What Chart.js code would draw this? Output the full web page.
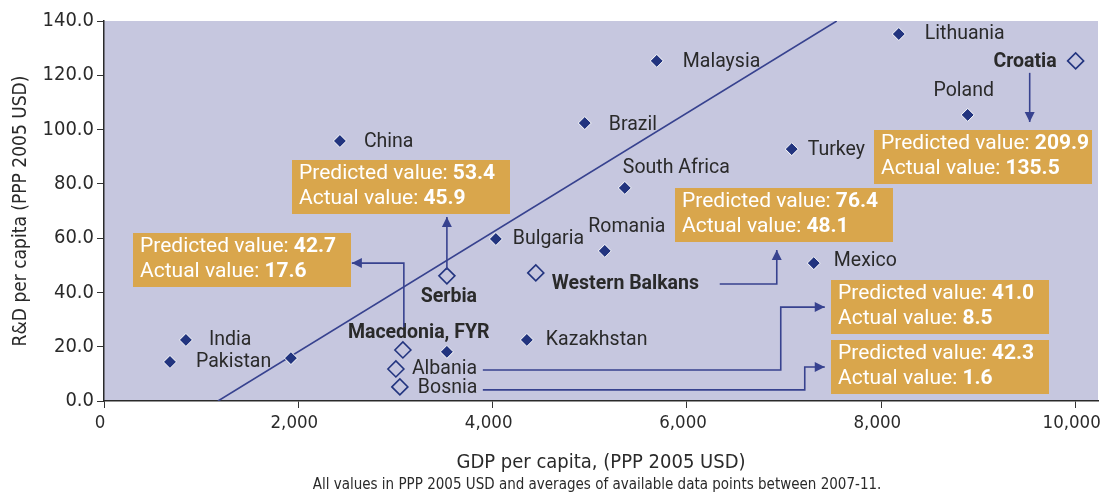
<!DOCTYPE html>
<html>
<head>
<meta charset="utf-8">
<script src="https://cdn.jsdelivr.net/npm/chart.js@4.4.1/dist/chart.umd.min.js"></script>
<style>
  html, body { margin: 0; padding: 0; background: #fff; }
  #wrap { width: 1102px; height: 494px; }
</style>
</head>
<body>
<div id="wrap"><canvas id="chartjs" width="1102" height="494"></canvas></div>
<script>
/*==== data ====*/
// countries (filled diamonds)
const countryNames = ['Lithuania', 'Malaysia', 'Poland', 'Brazil', 'China', 'Turkey', 'South Africa',
    'Bulgaria', 'Romania', 'Mexico', 'Kazakhstan', 'India', 'Pakistan', '', ''];
const countryGdp = [8180, 5689, 8889, 4948, 2428, 7078, 5360, 4033, 5154, 7305, 4352, 843, 679, 1924, 3529];
const countryRd  = [135.2, 125.3, 105.4, 102.4, 95.8, 92.8, 78.5, 59.7, 55.3, 50.8, 22.5, 22.5, 14.4, 15.8, 18.1];

// Western Balkans (hollow diamonds)
const balkanNames = ['Croatia', 'Western Balkans', 'Serbia', 'Macedonia, FYR', 'Albania', 'Bosnia'];
const balkanGdp = [10000, 4444, 3529, 3076, 3004, 3045];
const balkanRd  = [125.3, 47.2, 46.1, 18.8, 11.8, 5.2];

// fitted line
const trendGdp = [1173, 7541];
const trendRd  = [0, 140];

// tick labels
const xTicks = [0, 2000, 4000, 6000, 8000, 10000];
const yTicks = [0, 20, 40, 60, 80, 100, 120, 140];

// callout texts (Croatia, Serbia, Macedonia, Western Balkans, Albania, Bosnia)
const boxPredicted = ['209.9', '53.4', '42.7', '76.4', '41.0', '42.3'];
const boxActual    = ['135.5', '45.9', '17.6', '48.1', '8.5', '1.6'];

/*==== layout / style ====*/
const NAVY = '#22347f';
const LINE = '#37428f';
const PLOT_BG = '#c6c7df';
const BOX_BG = '#d9a64c';
const TEXT = '#2a2a2a';
const LABEL_FONT = '19.5px Roboto, "Noto Sans", sans-serif';
const LABEL_BOLD = 'bold 19.5px Roboto, "Noto Sans", sans-serif';
const AXIS_FONT = '"DejaVu Sans Condensed", sans-serif';

// label offsets in px from the marker
const countryLabelPos = [
    {dx: 26, dy: 0},
    {dx: 26, dy: 1},
    {dx: -4, dy: -24, align: 'center'},
    {dx: 24, dy: 2},
    {dx: 24, dy: 1},
    {dx: 16, dy: 1},
    {dx: -2, dy: -20},
    {dx: 17, dy: 0},
    {dx: 22, dy: -24, align: 'center'},
    {dx: 20, dy: -2},
    {dx: 19, dy: 0},
    {dx: 23, dy: 0},
    {dx: 26, dy: 0},
    null, null
];
const balkanLabelPos = [
    {dx: -19, dy: 1, align: 'right', bold: true},
    {dx: 16, dy: 11, bold: true},
    {dx: 2, dy: 21, align: 'center', bold: true},
    {dx: -55, dy: -17, bold: true},
    {dx: 16, dy: 0},
    {dx: 18, dy: 1}
];

// callout boxes: top-left corner in data units
const boxAnchors = [
    [7922, 99.9], [1934, 88.8], [298, 61.9], [5874, 78.5], [7479, 44.6], [7479, 22.5]
];
const BOX_W = 218, BOX_H = 54;

// arrows in data units, last point is the arrow tip
const arrowPaths = [
    [[9527, 120.9], [9527, 102.8]],
    [[3529, 48.3], [3529, 67.8]],
    [[3086, 27.3], [3086, 50.8], [2551, 50.8]],
    [[6337, 43.1], [6924, 43.1], [6924, 55.6]],
    [[3899, 11.4], [6965, 11.4], [6965, 34.6], [7418, 34.6]],
    [[3899, 4.1], [7212, 4.1], [7212, 12.5], [7418, 12.5]]
];

function toPoints(xs, ys) {
    return xs.map((x, i) => ({x: x, y: ys[i]}));
}

function drawArrow(ctx, pts) {
    ctx.beginPath();
    ctx.moveTo(pts[0][0], pts[0][1]);
    for (let i = 1; i < pts.length; i++) ctx.lineTo(pts[i][0], pts[i][1]);
    ctx.stroke();
    const [x1, y1] = pts[pts.length - 2];
    const [x2, y2] = pts[pts.length - 1];
    const ang = Math.atan2(y2 - y1, x2 - x1);
    const len = 10, half = 5;
    ctx.beginPath();
    ctx.moveTo(x2, y2);
    ctx.lineTo(x2 - len * Math.cos(ang) + half * Math.sin(ang), y2 - len * Math.sin(ang) - half * Math.cos(ang));
    ctx.lineTo(x2 - len * Math.cos(ang) - half * Math.sin(ang), y2 - len * Math.sin(ang) + half * Math.cos(ang));
    ctx.closePath();
    ctx.fill();
}

function drawLabels(ctx, meta, names, pos) {
    names.forEach((name, i) => {
        const p = pos[i];
        if (!name || !p) return;
        const el = meta.data[i];
        ctx.font = p.bold ? LABEL_BOLD : LABEL_FONT;
        ctx.textAlign = p.align || 'left';
        ctx.fillText(name, el.x + p.dx, el.y + p.dy);
    });
}

// no extra room for the overhanging first / last tick labels
function noLabelPadding(scale) {
    scale._calculatePadding = function () {
        this.paddingLeft = 0;
        this.paddingRight = 0;
        this.paddingTop = 0;
        this.paddingBottom = 0;
    };
}

/*==== plugin for background, labels and callouts ====*/
const annotate = {
    id: 'annotate',
    beforeDraw(chart) {
        const {ctx, chartArea: a} = chart;
        ctx.save();
        ctx.fillStyle = PLOT_BG;
        ctx.fillRect(a.left, a.top, a.right - a.left, a.bottom - a.top);
        ctx.restore();
    },
    afterDatasetsDraw(chart) {
        const {ctx, scales: {x, y}} = chart;
        ctx.save();
        ctx.textBaseline = 'middle';
        ctx.fillStyle = TEXT;
        drawLabels(ctx, chart.getDatasetMeta(0), countryNames, countryLabelPos);
        drawLabels(ctx, chart.getDatasetMeta(1), balkanNames, balkanLabelPos);

        // arrows
        ctx.strokeStyle = LINE;
        ctx.fillStyle = LINE;
        ctx.lineWidth = 1.6;
        arrowPaths.forEach(path => {
            drawArrow(ctx, path.map(p => [x.getPixelForValue(p[0]), y.getPixelForValue(p[1])]));
        });

        // callout boxes
        boxAnchors.forEach((b, i) => {
            const bx = Math.round(x.getPixelForValue(b[0]));
            const by = Math.round(y.getPixelForValue(b[1]));
            ctx.fillStyle = BOX_BG;
            ctx.fillRect(bx, by, BOX_W, BOX_H);
            ctx.fillStyle = '#ffffff';
            ctx.textAlign = 'left';
            const lines = [['Predicted value: ', boxPredicted[i]], ['Actual value: ', boxActual[i]]];
            lines.forEach((ln, k) => {
                const ty = by + 14 + k * 25;
                ctx.font = '21px Roboto, "Noto Sans", sans-serif';
                ctx.fillText(ln[0], bx + 7, ty);
                const w = ctx.measureText(ln[0]).width;
                ctx.font = 'bold 21px Roboto, "Noto Sans", sans-serif';
                ctx.fillText(ln[1], bx + 7 + w, ty);
            });
        });

        // footnote
        ctx.fillStyle = TEXT;
        ctx.textAlign = 'center';
        ctx.font = '15px ' + AXIS_FONT;
        ctx.fillText('All values in PPP 2005 USD and averages of available data points between 2007-11.', 597, 485);
        ctx.restore();
    }
};

/*==== chart ====*/
const config_scatter = {
    type: 'scatter',
    data: {
        datasets: [
            {
                label: 'Countries',
                data: toPoints(countryGdp, countryRd),
                pointStyle: 'rectRot',
                pointRadius: 6.5,
                backgroundColor: NAVY,
                borderColor: '#ffffff',
                borderWidth: 1
            },
            {
                label: 'Western Balkans',
                data: toPoints(balkanGdp, balkanRd),
                pointStyle: 'rectRot',
                pointRadius: 8,
                backgroundColor: 'rgba(0,0,0,0)',
                borderColor: NAVY,
                borderWidth: 1.6
            },
            {
                type: 'line',
                label: 'Trend',
                data: toPoints(trendGdp, trendRd),
                borderColor: LINE,
                borderWidth: 1.6,
                pointRadius: 0,
                fill: false
            }
        ]
    },
    options: {
        responsive: false,
        animation: false,
        layout: { autoPadding: false, padding: { top: 21, right: 4, bottom: 0, left: 0 } },
        plugins: {
            legend: { display: false },
            tooltip: { enabled: false }
        },
        scales: {
            x: {
                type: 'linear',
                min: 0,
                max: 10230,
                beforeFit: noLabelPadding,
                afterBuildTicks: scale => { scale.ticks = xTicks.map(v => ({value: v})); },
                afterFit: scale => { scale.height = 93; },
                grid: { drawOnChartArea: false, drawTicks: true, tickLength: 7, color: '#333' },
                border: { display: true, color: '#2a2a2a', width: 1.5 },
                ticks: {
                    padding: 4,
                    labelOffset: -4,
                    color: TEXT,
                    font: { family: AXIS_FONT, size: 18.5 },
                    callback: v => v.toLocaleString('en-US')
                },
                title: {
                    display: true,
                    text: 'GDP per capita, (PPP 2005 USD)',
                    color: TEXT,
                    font: { family: AXIS_FONT, size: 20 },
                    padding: { top: 0, bottom: 19 }
                }
            },
            y: {
                min: 0,
                max: 140,
                afterBuildTicks: scale => { scale.ticks = yTicks.map(v => ({value: v})); },
                afterFit: scale => { scale.width = 104; },
                grid: { drawOnChartArea: false, drawTicks: true, tickLength: 7, color: '#333' },
                border: { display: true, color: '#2a2a2a', width: 1.5 },
                ticks: {
                    padding: 3,
                    color: TEXT,
                    font: { family: AXIS_FONT, size: 20 },
                    callback: v => v.toFixed(1)
                },
                title: {
                    display: true,
                    text: 'R&D per capita (PPP 2005 USD)',
                    color: TEXT,
                    font: { family: AXIS_FONT, size: 19 },
                    padding: { top: 10, bottom: 0 }
                }
            }
        }
    },
    plugins: [annotate]
};

new Chart(document.querySelector('#chartjs'), config_scatter);
</script>
</body>
</html>
